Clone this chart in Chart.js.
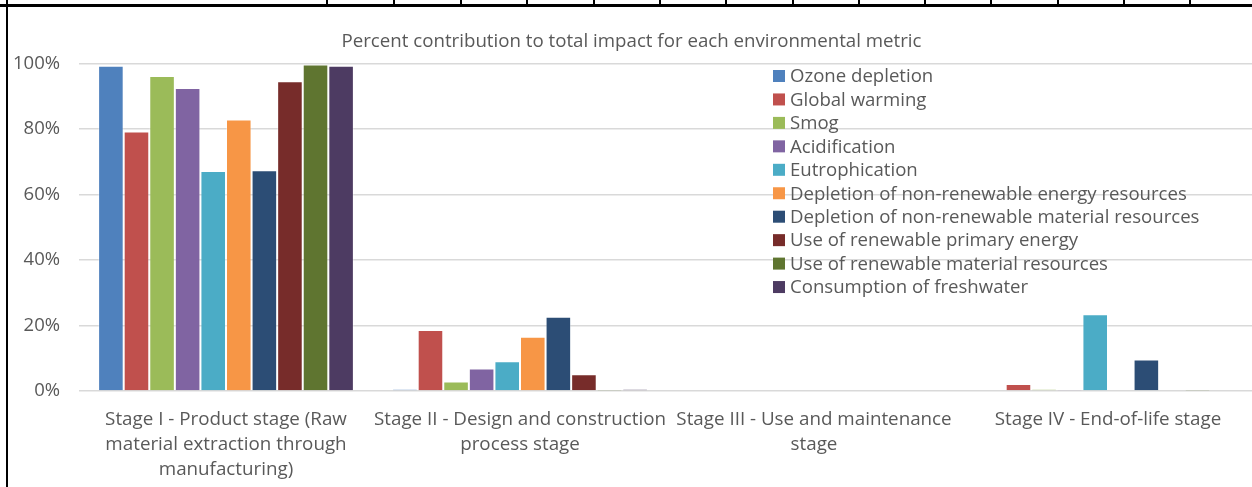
<!DOCTYPE html>
<html>
<head>
<meta charset="utf-8">
<script src="https://cdn.jsdelivr.net/npm/chart.js@4.4.1/dist/chart.umd.min.js"></script>
<style>
  html, body { margin: 0; padding: 0; background: #fff; overflow: hidden; }
  #wrap { position: relative; width: 1252px; height: 487px; overflow: hidden; }
  #box { position: absolute; left: 0; top: 0; width: 1258px; height: 487px; }
  .ln { position: absolute; background: #000; }
</style>
</head>
<body>
<div id="wrap">
  <div id="box"><canvas id="chart"></canvas></div>
  <div class="ln" style="left:0;top:4px;width:1252px;height:3px"></div>
  <div class="ln" style="left:6px;top:0;width:2px;height:487px"></div>
  <div id="cells"></div>
</div>
<script>
// categories and series
const stages = [
  ["Stage I - Product stage (Raw", "material extraction through", "manufacturing)"],
  ["Stage II - Design and construction", "process stage"],
  ["Stage III - Use and maintenance", "stage"],
  ["Stage IV - End-of-life stage"]
];
const metrics = [
  "Ozone depletion", "Global warming", "Smog", "Acidification", "Eutrophication",
  "Depletion of non-renewable energy resources", "Depletion of non-renewable material resources",
  "Use of renewable primary energy", "Use of renewable material resources", "Consumption of freshwater"
];
const colors = ["#4F81BD", "#C0504D", "#9BBB59", "#8064A2", "#4BACC6",
                "#F79646", "#2C4D75", "#772C2A", "#5F7530", "#4D3B62"];

// percent per stage (I, II, III, IV) for each metric
const ozoneDepletion    = [99.3, 0.5, 0, 0];
const globalWarming     = [79.2, 18.6, 0, 2.1];
const smog              = [96.2, 2.9, 0, 0.5];
const acidification     = [92.5, 6.9, 0, 0.4];
const eutrophication    = [67.2, 9.1, 0, 23.4];
const nonRenewEnergy    = [82.9, 16.6, 0, 0.2];
const nonRenewMaterial  = [67.4, 22.7, 0, 9.6];
const renewPrimary      = [94.6, 5.1, 0, 0];
const renewMaterial     = [99.7, 0.1, 0, 0.1];
const freshwater        = [99.3, 0.5, 0, 0.3];
const seriesValues = [ozoneDepletion, globalWarming, smog, acidification, eutrophication,
                      nonRenewEnergy, nonRenewMaterial, renewPrimary, renewMaterial, freshwater];

const yTicks = [0, 20, 40, 60, 80, 100];

// table cell borders peeking at the top
const cellLines = [327, 394, 461, 527, 594, 660, 726, 793, 859, 925, 991, 1058, 1124, 1190];
const cells = document.getElementById("cells");
cellLines.forEach(x => {
  const d = document.createElement("div");
  d.className = "ln";
  d.style.cssText = "left:" + (x - 1) + "px;top:0;width:2px;height:5px";
  cells.appendChild(d);
});

const FONT = "'Open Sans', Lato, sans-serif";
const GREY = "#595959";

// legend drawn inside the plot area, gridlines stay visible behind it
const innerLegend = {
  id: "innerLegend",
  afterDraw(chart) {
    const ctx = chart.ctx;
    ctx.save();
    ctx.font = "18.6px " + FONT;
    ctx.textBaseline = "middle";
    metrics.forEach((name, i) => {
      const y = 76 + i * 23.45;
      ctx.fillStyle = colors[i];
      ctx.fillRect(773, y - 6, 12, 12);
      ctx.fillStyle = GREY;
      ctx.fillText(name, 790, y + 1);
    });
    ctx.restore();
  }
};

new Chart(document.getElementById("chart"), {
  type: "bar",
  data: {
    labels: stages,
    datasets: metrics.map((m, i) => ({
      label: m,
      data: seriesValues[i],
      backgroundColor: colors[i],
      borderColor: "rgba(255,255,255,0.35)",
      borderWidth: 1,
      categoryPercentage: 0.87,
      barPercentage: 1
    }))
  },
  options: {
    responsive: true,
    maintainAspectRatio: false,
    animation: false,
    layout: { padding: { left: 8, right: 3, top: 5, bottom: 0 } },
    plugins: {
      legend: { display: false },
      tooltip: { enabled: false },
      title: {
        display: true,
        text: "Percent contribution to total impact for each environmental metric",
        color: GREY,
        font: { family: FONT, size: 18.7, weight: "normal" },
        padding: { top: 25, bottom: 11 }
      }
    },
    scales: {
      x: {
        grid: { display: false },
        border: { display: false },
        ticks: {
          color: GREY,
          font: { family: FONT, size: 18.8, lineHeight: 1.33 },
          maxRotation: 0,
          autoSkip: false,
          padding: 8
        },
        afterFit(scale) { scale.height = 96; }
      },
      y: {
        min: 0,
        max: 100,
        afterBuildTicks(scale) { scale.ticks = yTicks.map(v => ({ value: v })); },
        grid: { color: "#d9d9d9", lineWidth: 1.5, drawTicks: false },
        border: { display: false },
        ticks: {
          color: GREY,
          font: { family: FONT, size: 18.5 },
          padding: 19,
          callback: v => v + "%"
        },
        afterFit(scale) { scale.width = 71; }
      }
    }
  },
  plugins: [innerLegend]
});
</script>
</body>
</html>
